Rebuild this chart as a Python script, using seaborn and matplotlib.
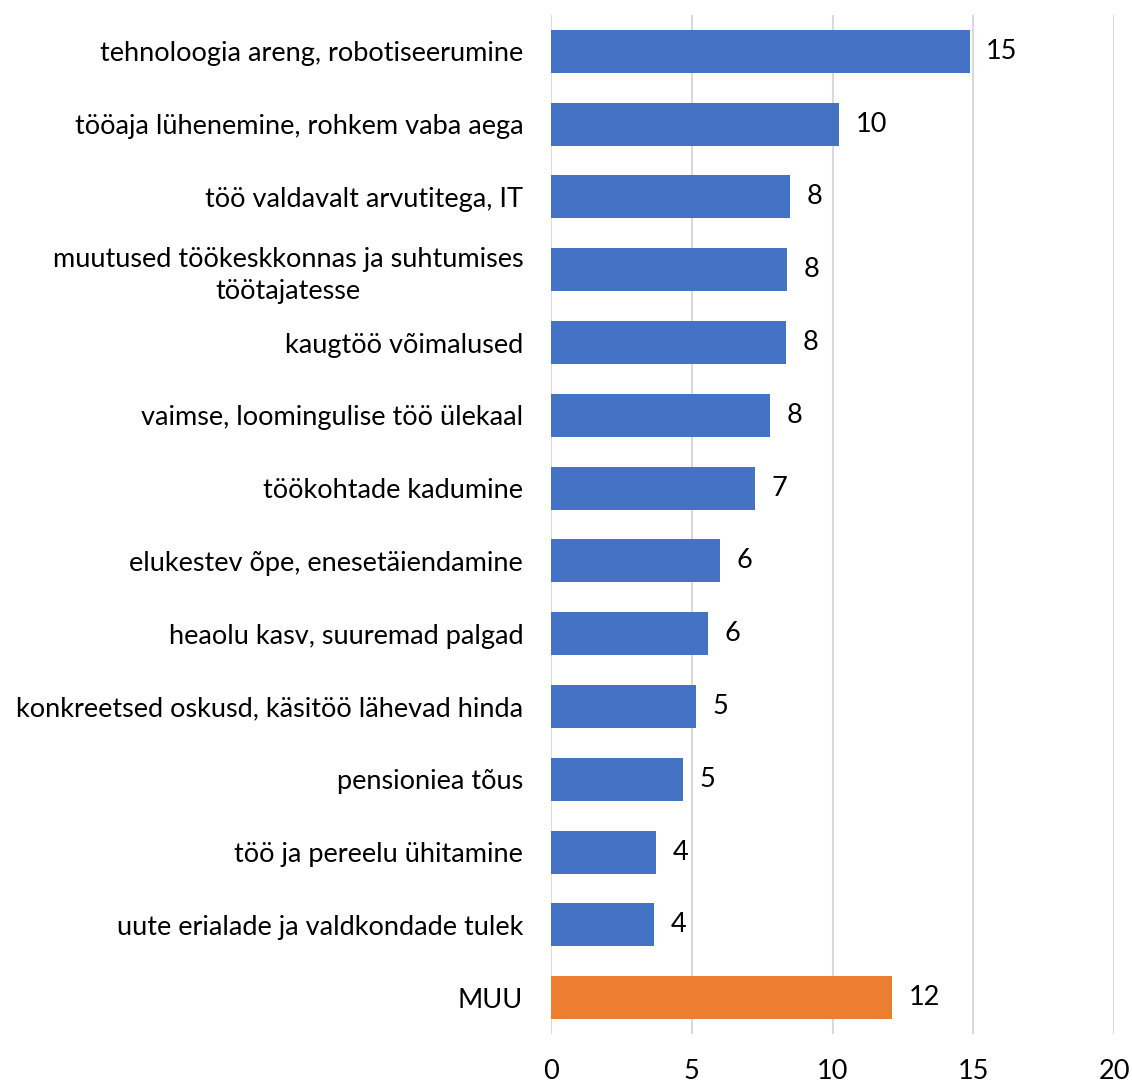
import pandas as pd
import matplotlib
matplotlib.use("Agg")
import matplotlib.pyplot as plt
import seaborn as sns

# Chart values (bar lengths, labels as printed)
categories = [
    "tehnoloogia areng, robotiseerumine",
    "tööaja lühenemine, rohkem vaba aega",
    "töö valdavalt arvutitega, IT",
    "muutused töökeskkonnas ja suhtumises\ntöötajatesse",
    "kaugtöö võimalused",
    "vaimse, loomingulise töö ülekaal",
    "töökohtade kadumine",
    "elukestev õpe, enesetäiendamine",
    "heaolu kasv, suuremad palgad",
    "konkreetsed oskusd, käsitöö lähevad hinda",
    "pensioniea tõus",
    "töö ja pereelu ühitamine",
    "uute erialade ja valdkondade tulek",
    "MUU",
]
values = [14.87, 10.23, 8.49, 8.38, 8.35, 7.78, 7.25, 6.0, 5.58, 5.15, 4.69, 3.73, 3.66, 12.11]
value_labels = ["15", "10", "8", "8", "8", "8", "7", "6", "6", "5", "5", "4", "4", "12"]
groups = ["main"] * 13 + ["other"]
x_ticks = [0, 5, 10, 15, 20]

sns.set_theme(style="white")
plt.rcParams["font.family"] = ["Lato", "DejaVu Sans"]
FS = 19.5

df = pd.DataFrame({"category": categories, "value": values, "group": groups})

fig = plt.figure(figsize=(11.32, 10.83), dpi=100)
ax = fig.add_axes([0.48675, 0.04524, 0.49735, 0.94091])

sns.barplot(data=df, x="value", y="category", hue="group",
            palette={"main": "#4472C4", "other": "#ED7D31"},
            width=0.59, dodge=False, legend=False, ax=ax,
            saturation=1, linewidth=0)

# value labels next to bars
for cont in ax.containers:
    labs = value_labels[:13] if len(cont) == 13 else [value_labels[-1]]
    ax.bar_label(cont, labels=labs, padding=12, fontsize=FS, color="black")

ax.set_xlim(0, 20)
ax.set_ylim(13.5, -0.5)
ax.set_xticks(x_ticks)
ax.grid(axis="x", color="#D9D9D9", linewidth=1.5)
ax.set_axisbelow(True)
for s in ax.spines.values():
    s.set_visible(False)
ax.set_xlabel("")
ax.set_ylabel("")
ax.tick_params(axis="x", length=0, pad=18, labelsize=FS, labelcolor="black")
ax.tick_params(axis="y", length=0, pad=20, labelsize=FS, labelcolor="black")
for t in ax.get_yticklabels():
    t.set_multialignment("center")
    t.set_linespacing(1.35)

fig.savefig("out.png", dpi=100)
